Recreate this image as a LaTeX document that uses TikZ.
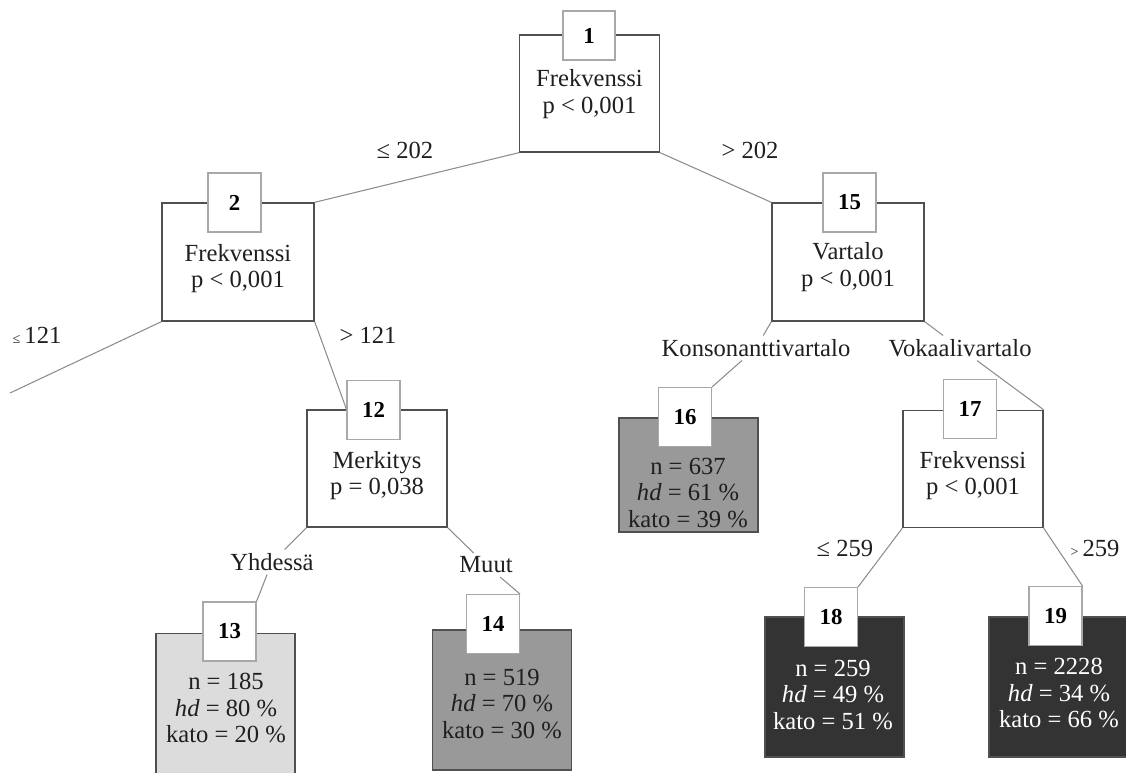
\documentclass[tikz,border=0pt]{standalone}
\usepackage{fontspec}
\setmainfont{Liberation Serif}

\definecolor{boxline}{HTML}{505050}
\definecolor{idline}{HTML}{A8A8A8}
\definecolor{edgeline}{HTML}{8C8C8C}
\definecolor{leaflight}{HTML}{DCDCDC}
\definecolor{leafmid}{HTML}{999999}
\definecolor{leafdark}{HTML}{333333}

\tikzset{
  split/.style={draw=boxline, line width=0.8pt, minimum width=2.8cm, minimum height=2.34cm},
  wide/.style={minimum width=3.04cm, minimum height=2.36cm},
  leaf/.style={draw=boxline, line width=0.8pt, minimum width=2.78cm, minimum height=2.8cm},
  idbox/.style={draw=idline, fill=white, line width=0.6pt, minimum width=1.06cm, minimum height=1.18cm, font=\fontsize{13}{15}\selectfont\bfseries},
  txt/.style={align=center, inner sep=0pt, text=black!88, font=\fontsize{14}{15}\selectfont},
  cond/.style={inner sep=2pt, text=black!88, font=\fontsize{14}{15}\selectfont},
}

\begin{document}
\begin{tikzpicture}[x=0.02cm, y=-0.02cm]
      \useasboundingbox (0,0) rectangle (1126,772);
      % inner nodes
      \begin{scope}[every node/.style={split}]
        \node (1) at (589.5,93.5) {};
        \node[wide] (2) at (238,262) {};
        \node (12) at (377,468.5) {};
        \node[wide] (15) at (848,262) {};
        \node (17) at (973,469) {};
      \end{scope}
      % terminal nodes
      \begin{scope}[every node/.style={leaf}]
        \node[fill=leaflight] (13) at (225.5,703.5) {};
        \node[fill=leafmid] (14) at (502,700) {};
        \node[fill=leafmid, minimum height=2.28cm] (16) at (688.5,475) {};
        \node[fill=leafdark] (18) at (834.5,687) {};
        \node[fill=leafdark] (19) at (1058.5,687) {};
      \end{scope}
      \begin{scope}[every node/.style={txt}]
        \node (t1) at (589.5,94) {Frekvenssi\\p < 0,001};
        \node (t2) at (238,268.5) {Frekvenssi\\p < 0,001};
        \node (t12) at (377,475.5) {Merkitys\\p = 0,038};
        \node (t15) at (848,267) {Vartalo\\p < 0,001};
        \node (t17) at (973,475.5) {Frekvenssi\\p < 0,001};
        \node (t13) at (226,708) {n = 185\\\textit{hd} = 80 \%\\kato = 20 \%};
        \node (t14) at (502,704) {n = 519\\\textit{hd} = 70 \%\\kato = 30 \%};
        \node (t16) at (688,493) {n = 637\\\textit{hd} = 61 \%\\kato = 39 \%};
        \node[text=white] (t18) at (833,695) {n = 259\\\textit{hd} = 49 \%\\kato = 51 \%};
        \node[text=white] (t19) at (1059,693) {n = 2228\\\textit{hd} = 34 \%\\kato = 66 \%};
      \end{scope}
      \begin{scope}[every node/.style={idbox}]
        \node[minimum width=1.04cm, minimum height=0.98cm] (i1) at (589,35.5) {1};
        \node (i2) at (234.5,202.5) {2};
        \node (i15) at (849.5,202.5) {15};
        \node (i12) at (373.5,410) {12};
        \node (i17) at (970,409) {17};
        \node (i16) at (685,417) {16};
        \node (i13) at (229.5,631.5) {13};
        \node (i14) at (493,624) {14};
        \node (i18) at (831,617) {18};
        \node (i19) at (1055.5,616) {19};
      \end{scope}
      % split labels
      \begin{scope}[every node/.style={cond}]
        \node (le202) at (405,150) {≤ 202};
        \node (gt202) at (750,150) {> 202};
        \node (le121) at (37,335) {{\fontsize{8}{8}\selectfont ≤}\,121};
        \node (gt121) at (368,335) {> 121};
        \node (konso) at (756,348) {Konsonanttivartalo};
        \node (vokaali) at (960,348) {Vokaalivartalo};
        \node (yhd) at (272,562) {Yhdessä};
        \node (muut) at (486,565) {Muut};
        \node (le259) at (845,548) {≤ 259};
        \node (gt259) at (1095,548) {{\fontsize{8}{8}\selectfont >}\,259};
      \end{scope}
      \coordinate (cut) at (10,393);
      \begin{scope}[every edge/.style={draw=edgeline, line width=0.6pt}]
        \path (1.south west) edge (2.north east);
        \path (1.south east) edge (15.north west);
        \path (2.south west) edge (cut);
        \path (2.south east) edge (i12.west |- 12.north);
        \path (12.south west) edge (yhd);
        \path (yhd) edge (i13.north east);
        \path (12.south east) edge (muut);
        \path (muut) edge (i14.north east);
        \path (15.south west) edge (konso);
        \path (konso) edge (i16.north east);
        \path (15.south east) edge (vokaali);
        \path (vokaali) edge (17.north east);
        \path (17.south west) edge (i18.north east);
        \path (17.south east) edge (i19.north east);
      \end{scope}
    \end{tikzpicture}
\end{document}
